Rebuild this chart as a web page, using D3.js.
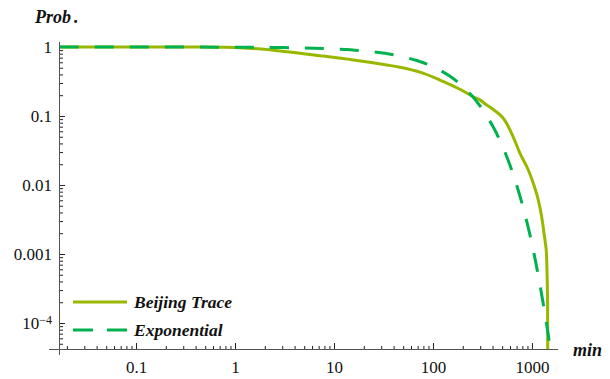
<!DOCTYPE html>
<html>
<head>
<meta charset="utf-8">
<script src="https://cdn.jsdelivr.net/npm/d3@7"></script>
<style>
  html, body { margin: 0; padding: 0; background: #fff; }
  svg { display: block; }
</style>
</head>
<body>
<svg id="chart" width="610" height="379"></svg>
<script>
// Survival probability of contact durations (minutes), log-log axes.
const traceMinutes = [0.017, 0.1, 0.4, 0.7, 1.0, 1.53, 3.33, 7.22, 15.7, 34.1, 46.4, 73.9, 117.7, 187.4, 255, 298, 349, 406, 513, 623, 757, 919, 1072, 1158, 1253, 1310, 1353, 1394, 1418, 1438, 1442];
const traceProb    = [1, 1, 0.998, 0.992, 0.985, 0.95, 0.855, 0.748, 0.648, 0.549, 0.508, 0.431, 0.332, 0.244, 0.19, 0.171, 0.144, 0.124, 0.0926, 0.0561, 0.0288, 0.0165, 0.00896, 0.00606, 0.00348, 0.00223, 0.0016, 0.00114, 0.000585, 0.000215, 0.00001];

const expMinutes = [0.017, 1, 2, 5, 10, 20, 40, 70, 100, 150, 200, 250, 300, 400, 500, 600, 700, 800, 900, 1000, 1100, 1200, 1300, 1400, 1500, 1600];
const expProb    = [1, 0.993, 0.987, 0.968, 0.936, 0.877, 0.769, 0.631, 0.518, 0.373, 0.268, 0.193, 0.139, 0.072, 0.0373, 0.0193, 0.0100, 0.0052, 0.0027, 0.0014, 0.00072, 0.00037, 0.00019, 0.0001, 0.000052, 0.000027];

const xMajor = [0.1, 1, 10, 100, 1000];
const xLabels = ["0.1", "1", "10", "100", "1000"];
const yMajor = [1, 0.1, 0.01, 0.001, 0.0001];
const yLabels = ["1", "0.1", "0.01", "0.001", "10|−4"];

const seriesNames = ["Beijing Trace", "Exponential"];
const colors = ["#98b800", "#00b14f"];

const serif = "'Liberation Serif', 'DejaVu Serif', serif";

const svg = d3.select("#chart");
const plotLeft = 60, plotRight = 558, plotTop = 42, plotBottom = 349;

const x = d3.scaleLog().domain([0.01706, 1833]).range([plotLeft, plotRight]);
const y = d3.scaleLog().domain([4.2e-5, 1.18]).range([plotBottom, plotTop]);

// minor tick positions (2..9 within each decade, inside the domains)
function minorTicks(scale) {
  const [a, b] = scale.domain();
  const out = [];
  for (let e = Math.floor(Math.log10(a)); e <= Math.ceil(Math.log10(b)); e++) {
    for (let m = 2; m <= 9; m++) {
      const v = m * Math.pow(10, e);
      if (v >= a && v <= b) out.push(v);
    }
  }
  return out;
}

// clip region for the curves
svg.append("defs").append("clipPath").attr("id", "plotClip")
  .append("rect").attr("x", plotLeft).attr("y", plotTop)
  .attr("width", plotRight - plotLeft).attr("height", plotBottom - plotTop);

// x axis
const gx = svg.append("g").attr("transform", `translate(0,${plotBottom})`);
gx.call(d3.axisBottom(x).tickValues(minorTicks(x)).tickSize(-3).tickSizeOuter(0).tickFormat(""));
gx.call(g => g.select(".domain").remove());
const gx2 = svg.append("g").attr("transform", `translate(0,${plotBottom})`);
gx2.call(d3.axisBottom(x).tickValues(xMajor).tickSize(-6).tickSizeOuter(0).tickPadding(12)
  .tickFormat((d, i) => xLabels[i]));
gx2.call(g => g.select(".domain").remove());

// y axis
const gy = svg.append("g").attr("transform", `translate(${plotLeft},0)`);
gy.call(d3.axisLeft(y).tickValues(minorTicks(y)).tickSize(-3).tickSizeOuter(0).tickFormat(""));
gy.call(g => g.select(".domain").remove());
const gy2 = svg.append("g").attr("transform", `translate(${plotLeft},0)`);
gy2.call(d3.axisLeft(y).tickValues(yMajor).tickSize(-5).tickSizeOuter(0).tickPadding(8)
  .tickFormat((d, i) => yLabels[i]));
gy2.call(g => g.select(".domain").remove());

svg.selectAll("g").attr("font-family", serif);
svg.selectAll(".tick line").attr("stroke", "#222").attr("stroke-width", 1);
svg.selectAll(".tick text").attr("font-size", 17).attr("fill", "#111").attr("font-family", serif);
gy2.selectAll(".tick text").attr("dy", "0.34em");

// superscript exponent labels
gy2.selectAll(".tick text").each(function() {
  const t = d3.select(this);
  const s = t.text();
  if (s.includes("|")) {
    const [base, ex] = s.split("|");
    t.text(base);
    t.append("tspan").attr("dy", "-0.45em").attr("font-size", 12).text(ex);
  }
});

// axis lines
svg.append("line").attr("x1", plotLeft - 11).attr("x2", plotRight)
  .attr("y1", plotBottom + 0.5).attr("y2", plotBottom + 0.5)
  .attr("stroke", "#555").attr("stroke-width", 1);
svg.append("line").attr("x1", plotLeft - 0.5).attr("x2", plotLeft - 0.5)
  .attr("y1", plotTop).attr("y2", plotBottom + 6)
  .attr("stroke", "#555").attr("stroke-width", 1);

// curves
const line = d3.line().x(d => x(d[0])).y(d => y(d[1])).curve(d3.curveCatmullRom.alpha(0.5));
const plot = svg.append("g").attr("clip-path", "url(#plotClip)");
plot.append("path").datum(d3.zip(traceMinutes, traceProb))
  .attr("d", line).attr("fill", "none").attr("stroke", colors[0]).attr("stroke-width", 3);
plot.append("path").datum(d3.zip(expMinutes, expProb))
  .attr("d", line).attr("fill", "none").attr("stroke", colors[1]).attr("stroke-width", 3)
  .attr("stroke-dasharray", "19,16");

// axis titles
svg.append("text").attr("x", 35).attr("y", 23).attr("font-size", 18).attr("font-family", serif)
  .attr("font-weight", "bold").attr("font-style", "italic").attr("fill", "#111")
  .text("Prob").append("tspan").attr("dx", 3).text(".");
svg.append("text").attr("x", 573).attr("y", 356).attr("font-size", 18).attr("font-family", serif)
  .attr("font-weight", "bold").attr("font-style", "italic").attr("fill", "#111").text("min");

// legend
const legend = svg.append("g");
const legendY = [302, 330];
seriesNames.forEach((name, i) => {
  legend.append("line").attr("x1", 73).attr("x2", 127).attr("y1", legendY[i]).attr("y2", legendY[i])
    .attr("stroke", colors[i]).attr("stroke-width", 3)
    .attr("stroke-dasharray", i === 1 ? "20,14" : null);
  legend.append("text").attr("x", 134).attr("y", legendY[i] + 6).attr("font-size", 17.5)
    .attr("font-family", serif)
    .attr("font-weight", "bold").attr("font-style", "italic").attr("fill", "#111").text(name);
});
</script>
</body>
</html>
